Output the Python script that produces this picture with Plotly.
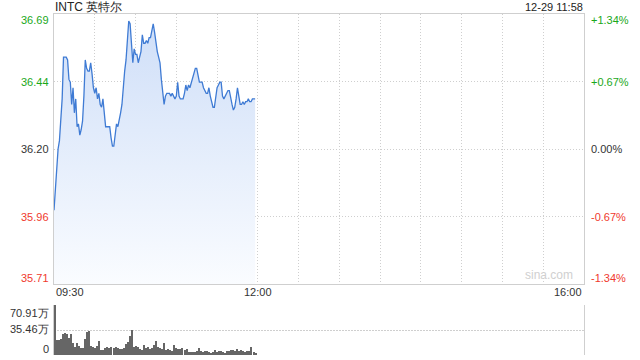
import numpy as np
import plotly.graph_objects as go
from decimal import Decimal, ROUND_HALF_UP

# ---------------- data ----------------
symbol = "INTC 英特尔"
stamp = "12-29 11:58"
pre_close = 36.20
band_pct = 1.34

# minute prices from 09:30
price = [35.98, 36.06, 36.15, 36.20, 36.23, 36.30, 36.38, 36.53, 36.53, 36.53,
         36.52, 36.45, 36.44, 36.36, 36.42, 36.33, 36.38, 36.28, 36.29, 36.25,
         36.27, 36.30, 36.39, 36.52, 36.49, 36.48, 36.48, 36.51, 36.47, 36.42,
         36.40, 36.42, 36.38, 36.40, 36.36, 36.35, 36.38, 36.33, 36.28, 36.28,
         36.28, 36.28, 36.24, 36.21, 36.21, 36.26, 36.29, 36.28, 36.30, 36.33,
         36.36, 36.43, 36.48, 36.52, 36.58, 36.66, 36.65, 36.58, 36.51, 36.56,
         36.54, 36.54, 36.51, 36.53, 36.55, 36.61, 36.58, 36.58, 36.59, 36.58,
         36.60, 36.60, 36.63, 36.65, 36.62, 36.58, 36.55, 36.53, 36.51, 36.45,
         36.40, 36.36, 36.39, 36.40, 36.40, 36.40, 36.39, 36.40, 36.39, 36.38,
         36.39, 36.44, 36.39, 36.38, 36.38, 36.38, 36.40, 36.43, 36.41, 36.43,
         36.42, 36.44, 36.46, 36.48, 36.49, 36.49, 36.47, 36.44, 36.44, 36.44,
         36.42, 36.41, 36.40, 36.40, 36.42, 36.39, 36.37, 36.35, 36.35, 36.38,
         36.42, 36.43, 36.44, 36.44, 36.39, 36.38, 36.39, 36.40, 36.41, 36.41,
         36.38, 36.36, 36.34, 36.35, 36.38, 36.42, 36.39, 36.36, 36.36, 36.37,
         36.36, 36.37, 36.37, 36.38, 36.37, 36.37, 36.38, 36.38, 36.38]
minute = list(range(len(price)))

# volume bars (万股)
volume = [70.91, 21.3, 21.3, 22.2, 29.8, 31.7, 29.8, 23.6, 29.8, 16.5,
          11.8, 16.5, 12.8, 9.5, 9.5, 22.2, 33.1, 34.5, 12.8, 10.9,
          9.5, 12.8, 20.3, 7.1, 7.1, 9.5, 10.9, 9.5, 10.9, 9.5,
          10.9, 9.5, 8.0, 9.0, 9.5, 15.6, 18.9, 27.0, 35.5, 10.9,
          12.8, 11.8, 8.0, 7.1, 14.2, 10.4, 11.8, 8.0, 9.5, 14.2,
          20.3, 11.8, 9.5, 8.0, 17.5, 7.1, 8.0, 7.1, 6.1, 14.2,
          9.5, 8.0, 8.0, 10.4, 7.1, 8.0, 4.7, 4.7, 4.7, 4.2,
          5.5, 9.5, 5.0, 4.5, 5.5, 6.0, 4.2, 3.5, 4.0, 6.5,
          4.5, 5.0, 6.0, 4.0, 3.5, 5.0, 5.5, 6.5, 7.5, 5.0,
          8.0, 6.0, 7.0, 5.5, 4.0, 5.0, 6.0, 11.8, 4.5, 3.0]
vol_minute = np.linspace(0.6, len(price) - 0.6, len(volume))

session_minutes = 390
time_labels = ["09:30", "12:00", "16:00"]
time_label_pos = [0, 150, 390]

# ---------------- derived ----------------
def r2(v):
    return str(Decimal(repr(v)).quantize(Decimal("0.01"), rounding=ROUND_HALF_UP))

y_lo = pre_close * (1 - band_pct / 100)
y_hi = pre_close * (1 + band_pct / 100)
half = band_pct / 2
y_grid = [pre_close * (1 - half / 100), pre_close, pre_close * (1 + half / 100)]
vmax = max(volume)

GREEN = "#1aa81a"
RED = "#f03a2e"
DARK = "#333333"
LINE = "#cfcfcf"
FONT = "Liberation Sans, Arial, sans-serif"

fig = go.Figure()
fig.add_trace(go.Scatter(
    x=minute, y=price, mode="lines",
    line=dict(color="#3f7bd4", width=1.3),
    fill="tozeroy",
    fillgradient=dict(type="vertical",
                      colorscale=[[0, "rgb(250,252,255)"], [1, "rgb(206,222,248)"]],
                      start=y_lo, stop=y_hi),
    xaxis="x", yaxis="y", hoverinfo="skip"))

fig.add_trace(go.Bar(
    x=vol_minute, y=volume, width=0.95,
    marker=dict(color="#666666", line=dict(width=0)),
    xaxis="x2", yaxis="y2", hoverinfo="skip"))

top_frac = 1 - 270 / 341
vol_frac = 50 / 341

fig.update_layout(
    width=640, height=360,
    margin=dict(l=54, r=56, t=14, b=5),
    paper_bgcolor="white", plot_bgcolor="white",
    showlegend=False, bargap=0,
    font=dict(family=FONT, size=11, color=DARK),
    xaxis=dict(domain=[0, 1], range=[0, session_minutes],
               tickvals=list(range(30, session_minutes, 30)),
               showticklabels=False, ticks="",
               showgrid=True, gridcolor=LINE, griddash="1px,2px", gridwidth=1,
               showline=True, linecolor=LINE, linewidth=1, mirror=True,
               zeroline=False, anchor="y"),
    yaxis=dict(domain=[top_frac, 1], range=[y_lo, y_hi],
               tickvals=y_grid, showticklabels=False, ticks="",
               showgrid=True, gridcolor=LINE, griddash="1px,2px", gridwidth=1,
               showline=True, linecolor=LINE, linewidth=1, mirror=True,
               zeroline=False, anchor="x"),
    xaxis2=dict(domain=[0, 1], range=[0, session_minutes],
                showticklabels=False, ticks="", showgrid=False,
                showline=False, zeroline=False, anchor="y2"),
    yaxis2=dict(domain=[0, vol_frac], range=[0, vmax],
                tickvals=[0, vmax / 2, vmax], showticklabels=False, ticks="",
                showgrid=True, gridcolor=LINE, griddash="2px,1px", gridwidth=1,
                showline=True, linecolor=LINE, linewidth=1, mirror=True,
                zeroline=False, anchor="x2"),
)

ann = []
# title & timestamp
ann.append(dict(text=symbol, xref="paper", yref="paper", x=0, y=1, xanchor="left",
                yanchor="middle", yshift=7, xshift=-1, showarrow=False,
                font=dict(size=12, color="#222")))
ann.append(dict(text=stamp, xref="paper", yref="paper", x=1, y=1, xanchor="right",
                yanchor="middle", yshift=7, xshift=1, showarrow=False,
                font=dict(size=11, color="#222")))

# left price labels & right percent labels
levels = [y_lo, y_grid[0], pre_close, y_grid[2], y_hi]
pcts = [-band_pct, -half, 0.0, half, band_pct]
shifts = [6, 0, 0, 0, -6]
for lv, pc, sh in zip(levels, pcts, shifts):
    col = GREEN if pc > 0 else (RED if pc < 0 else DARK)
    ann.append(dict(text=r2(lv), xref="paper", yref="y", x=0, y=lv,
                    xanchor="right", yanchor="middle", xshift=-3, yshift=sh,
                    showarrow=False, font=dict(size=11, color=col)))
    ptxt = f"{pc:+.2f}%" if pc != 0 else "0.00%"
    ann.append(dict(text=ptxt, xref="paper", yref="y", x=1, y=lv,
                    xanchor="left", yanchor="middle", xshift=5, yshift=sh,
                    showarrow=False, font=dict(size=11, color=col)))

# time labels
anchors = ["left", "center", "right"]
for lab, pos, anc in zip(time_labels, time_label_pos, anchors):
    ann.append(dict(text=lab, xref="x", yref="y", x=pos, y=y_lo,
                    xanchor=anc, yanchor="top", yshift=0, showarrow=False,
                    font=dict(size=11, color=DARK)))

# volume labels
vlabels = [r2(vmax) + "万", r2(vmax / 2) + "万", "0"]
vvals = [vmax, vmax / 2, 0]
vshifts = [-8, 1, 6]
for t, v, s in zip(vlabels, vvals, vshifts):
    ann.append(dict(text=t, xref="paper", yref="y2", x=0, y=v, xanchor="right",
                    yanchor="middle", xshift=-3, yshift=s, showarrow=False,
                    font=dict(size=11, color=DARK)))

# watermark
ann.append(dict(text="sina.com", xref="paper", yref="y", x=1, y=y_lo,
                xanchor="right", yanchor="bottom", xshift=-9, yshift=0,
                showarrow=False, font=dict(size=12, color="#d0d0d0")))

fig.update_layout(annotations=ann)
fig.write_html("out.html")
